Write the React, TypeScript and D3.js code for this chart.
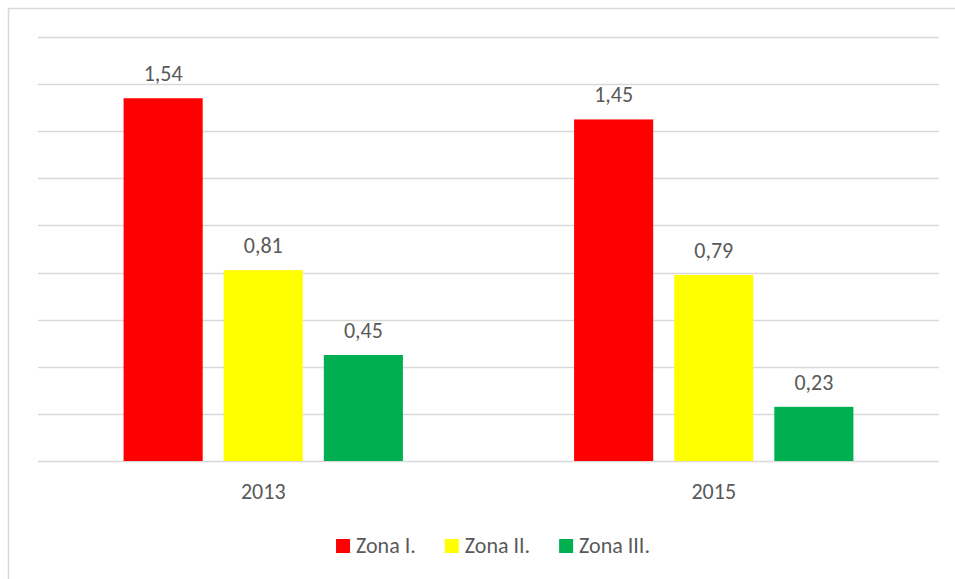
import React, { useEffect, useRef } from 'react';
import * as d3 from 'd3';

const years = ['2013', '2015'];
const series = ['Zona I.', 'Zona II.', 'Zona III.'];
const colors = ['#FF0000', '#FFFF00', '#00B050'];
const zona1 = [1.54, 1.45];
const zona2 = [0.81, 0.79];
const zona3 = [0.45, 0.23];
const yTicks = [0, 0.2, 0.4, 0.6, 0.8, 1, 1.2, 1.4, 1.6, 1.8];

const W = 955;
const H = 579;
const FONT = "Carlito, 'Open Sans', 'Liberation Sans', sans-serif";
const TEXT = '#595959';

const App = () => {
  const svgRef = useRef<SVGSVGElement>(null);

  useEffect(() => {
    const svg = d3.select(svgRef.current);
    svg.selectAll('*').remove();

    const plot = { left: 38, right: 939, top: 37, bottom: 461 };
    const values = [zona1, zona2, zona3];

    // chart frame (right/bottom edges fall outside the picture)
    svg.append('rect')
      .attr('x', 8.5).attr('y', 8.5)
      .attr('width', W + 20).attr('height', H + 20)
      .attr('fill', '#fff')
      .attr('stroke', '#D9D9D9')
      .attr('stroke-width', 1.5);

    const x0 = d3.scaleBand()
      .domain(years)
      .range([plot.left, plot.right])
      .paddingInner(0.38)
      .paddingOuter(0.19);

    const x1 = d3.scaleBand()
      .domain(series)
      .range([0, x0.bandwidth()])
      .paddingInner(0.21);

    const y = d3.scaleLinear()
      .domain([0, 1.8])
      .range([plot.bottom, plot.top]);

    // gridlines
    svg.append('g')
      .selectAll('line')
      .data(yTicks)
      .join('line')
      .attr('x1', plot.left)
      .attr('x2', plot.right)
      .attr('y1', d => Math.round(y(d)) + 0.5)
      .attr('y2', d => Math.round(y(d)) + 0.5)
      .attr('stroke', '#D9D9D9')
      .attr('stroke-width', 1.3);

    // bars + labels
    years.forEach((yr, i) => {
      const g = svg.append('g').attr('transform', `translate(${x0(yr)},0)`);
      series.forEach((s, j) => {
        const v = values[j][i];
        g.append('rect')
          .attr('x', x1(s)!)
          .attr('y', y(v))
          .attr('width', x1.bandwidth())
          .attr('height', y(0) - y(v))
          .attr('fill', colors[j]);
        g.append('text')
          .attr('x', x1(s)! + x1.bandwidth() / 2)
          .attr('y', y(v) - 17)
          .attr('text-anchor', 'middle')
          .attr('font-family', FONT)
          .attr('font-size', 22)
          .attr('fill', TEXT)
          .text(d3.format('.2f')(v).replace('.', ','));
      });
    });

    // x axis labels
    svg.append('g')
      .selectAll('text')
      .data(years)
      .join('text')
      .attr('x', d => x0(d)! + x0.bandwidth() / 2)
      .attr('y', 499)
      .attr('text-anchor', 'middle')
      .attr('font-family', FONT)
      .attr('font-size', 22)
      .attr('fill', TEXT)
      .text(d => d);

    // legend
    const legend = svg.append('g');
    const items = series.map((s, j) => {
      const item = legend.append('g');
      item.append('rect')
        .attr('x', 0).attr('y', 539)
        .attr('width', 14).attr('height', 14)
        .attr('fill', colors[j]);
      const t = item.append('text')
        .attr('x', 20).attr('y', 553)
        .attr('font-family', FONT)
        .attr('font-size', 22)
        .attr('fill', TEXT)
        .text(s);
      const w = (t.node() as SVGTextElement).getComputedTextLength();
      return { item, w: 20 + w };
    });
    const gap = 29;
    const total = d3.sum(items, d => d.w) + gap * (items.length - 1);
    let cx = 493 - total / 2;
    items.forEach(d => {
      d.item.attr('transform', `translate(${cx},0)`);
      cx += d.w + gap;
    });
  }, []);

  return (
    <svg
      ref={svgRef}
      width={W}
      height={H}
      style={{ position: 'absolute', left: 0, top: 0, background: '#fff' }}
    />
  );
};

export default App;
